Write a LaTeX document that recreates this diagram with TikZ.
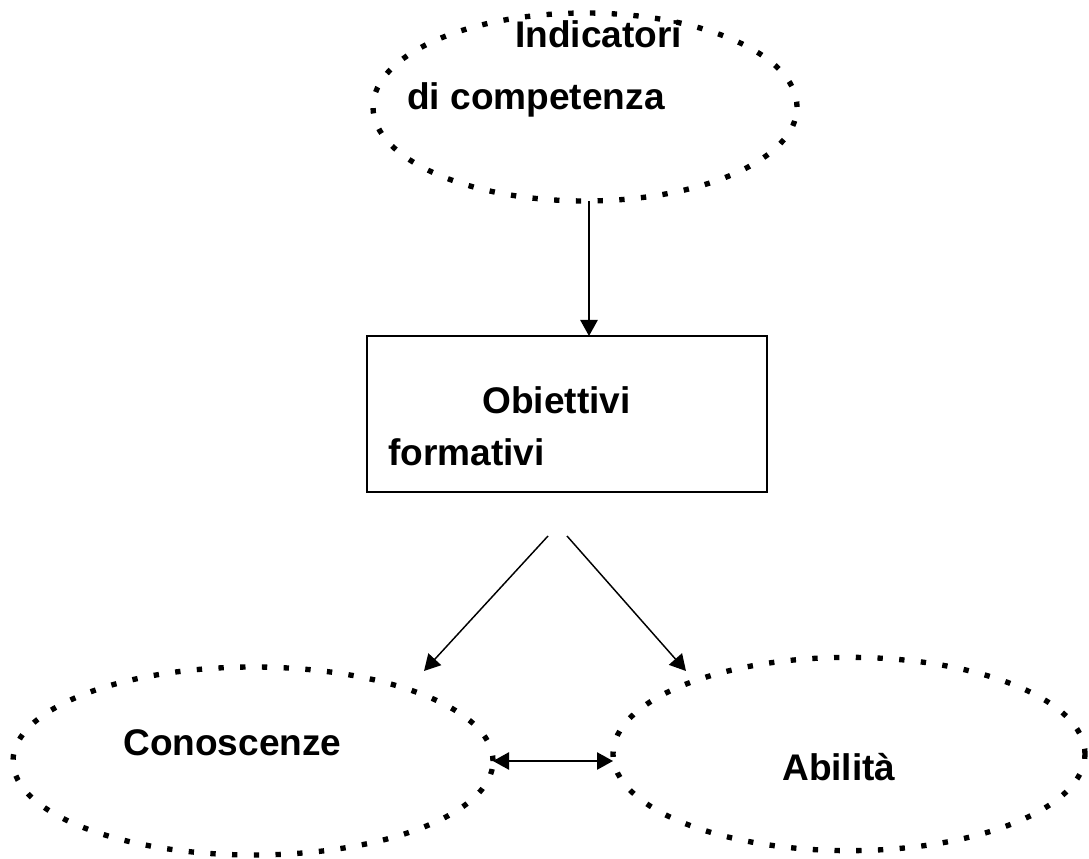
\documentclass[tikz,border=0pt]{standalone}
\usepackage{fontspec}
\setmainfont{Liberation Sans}
\usetikzlibrary{arrows.meta}
\usetikzlibrary{shapes.geometric}
\tikzset{bubble/.style={ellipse,draw=black,line width=4pt,dash pattern=on 4pt off 12.3pt,inner sep=0pt,outer sep=0pt}}
\tikzset{box/.style={rectangle,draw=black,line width=1.5pt,inner sep=0pt,outer sep=0pt}}
\tikzset{word/.style={anchor=base west,inner sep=0pt,font=\fontsize{27.8}{32}\selectfont\bfseries}}
\tikzset{arrow/.style={-{Triangle[length=12pt,width=13pt]},line width=1.1pt}}
\tikzset{twoway/.style={{Triangle[length=12pt,width=13pt]}-{Triangle[length=12pt,width=13pt]},line width=1.1pt}}

\begin{document}
\begin{tikzpicture}[x=0.75pt,y=-0.75pt]
        \useasboundingbox (0,0) rectangle (1089,859);

        \node[bubble,minimum width=318pt,minimum height=141pt] (ind) at (585,107) {};
        \node[box,minimum width=300pt,minimum height=117pt] (obj) at (567,414) {};
        \node[bubble,minimum width=360pt,minimum height=141pt] (con) at (253,761) {};
        \node[bubble,minimum width=354pt,minimum height=145pt] (abi) at (849,754) {};

        \node[word] (indA) at (515,48) {Indicatori};
        \node[word] (indB) at (407,110) {di competenza};
        \node[word] (objA) at (482,413) {Obiettivi};
        \node[word] (objB) at (388,465) {formativi};
        \node[word] (conA) at (123,755) {Conoscenze};
        \node[word] (abiA) at (782,780) {Abilità};

        \coordinate (splitL) at (548,536);
        \coordinate (splitR) at (567,536);
        \coordinate (tipL) at (424,671);
        \coordinate (tipR) at (686,671);

        \draw[arrow] ([xshift=3pt]ind.south) -- ([xshift=3pt]ind.south |- obj.north);
        \draw[arrow] (splitL) -- (tipL);
        \draw[arrow] (splitR) -- (tipR);
        \draw[twoway] (con.east) -- (con.east -| abi.west);
    \end{tikzpicture}
\end{document}
